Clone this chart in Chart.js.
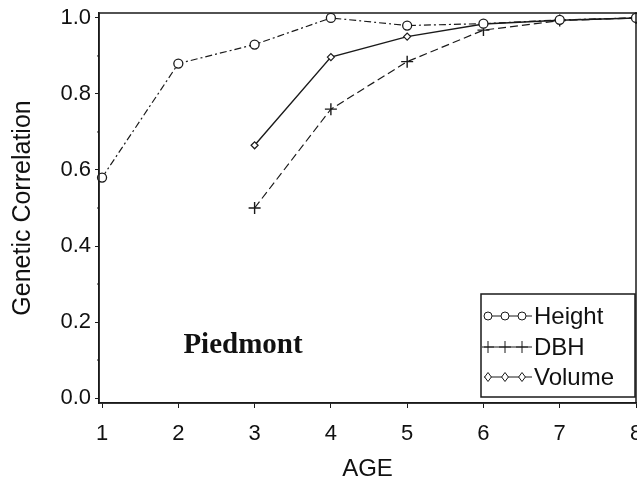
<!DOCTYPE html>
<html>
<head>
<meta charset="utf-8">
<script src="https://cdn.jsdelivr.net/npm/chart.js@4"></script>
<style>
  html, body { margin: 0; padding: 0; background: #fff; }
  #wrap { width: 637px; height: 486px; }
</style>
</head>
<body>
<div id="wrap"><canvas id="myChart" width="637" height="486"></canvas></div>
<script>
const ages = [1, 2, 3, 4, 5, 6, 7, 8];
const heightCorr = [0.58, 0.88, 0.93, 1.0, 0.98, 0.985, 0.995, 1.0];
const dbhCorr = [null, null, 0.50, 0.76, 0.885, 0.968, 0.993, 1.0];
const volumeCorr = [null, null, 0.665, 0.897, 0.951, 0.984, 0.994, 1.0];
const yTicks = [0, 0.2, 0.4, 0.6, 0.8, 1.0];
const legendNames = ['Height', 'DBH', 'Volume'];

const ink = '#1a1a1a';
const sans = 'Liberation Sans, Arial, sans-serif';

function points(vals) {
    return ages.map((a, i) => ({ x: a, y: vals[i] })).filter(p => p.y !== null);
}

// frame, minor ticks, Piedmont label and the legend box
const extras = {
    id: 'extras',
    afterDraw(chart) {
        const c = chart.ctx;
        const a = chart.chartArea;
        const ys = chart.scales.y;
        c.save();
        c.strokeStyle = ink;
        c.lineWidth = 1.5;
        c.strokeRect(a.left, a.top, a.right - a.left, a.bottom - a.top);

        // minor ticks on y
        c.lineWidth = 1;
        for (let v = 0.1; v < 1; v += 0.2) {
            const y = ys.getPixelForValue(v);
            c.beginPath();
            c.moveTo(a.left - 2, y);
            c.lineTo(a.left, y);
            c.stroke();
        }

        c.fillStyle = '#111';
        c.font = 'bold 29px "Liberation Serif", "Times New Roman", serif';
        c.textAlign = 'center';
        c.textBaseline = 'alphabetic';
        c.fillText('Piedmont', 243, 353);

        // legend
        const bx = 481, by = 294, bw = 154, bh = 103;
        c.lineWidth = 1.5;
        c.strokeStyle = ink;
        c.strokeRect(bx, by, bw, bh);
        const rows = [316, 347, 377];
        const ds = chart.data.datasets;
        const sizes = [4, 6, 4.5];
        c.font = '24px ' + sans;
        c.textAlign = 'left';
        c.textBaseline = 'middle';
        rows.forEach((ry, i) => {
            const d = ds[i];
            c.lineWidth = 1;
            c.setLineDash([]);
            c.beginPath();
            c.moveTo(484, ry);
            c.lineTo(532, ry);
            c.stroke();
            [488, 505, 522].forEach(mx => {
                drawMarker(c, d.pointStyle, mx, ry, sizes[i]);
            });
            c.fillStyle = '#111';
            c.fillText(legendNames[i], 534, ry + 1);
        });
        c.restore();
    }
};

function drawMarker(c, style, x, y, r) {
    c.beginPath();
    if (style === 'circle') {
        c.arc(x, y, r, 0, Math.PI * 2);
    } else if (style === 'cross') {
        c.moveTo(x - r, y); c.lineTo(x + r, y);
        c.moveTo(x, y - r); c.lineTo(x, y + r);
    } else {
        c.moveTo(x, y - r); c.lineTo(x + r * 0.75, y);
        c.lineTo(x, y + r); c.lineTo(x - r * 0.75, y); c.closePath();
    }
    c.fillStyle = '#fff';
    if (style !== 'cross') c.fill();
    c.stroke();
}

new Chart(document.getElementById('myChart'), {
    type: 'line',
    data: {
        datasets: [{
            label: legendNames[0],
            data: points(heightCorr),
            borderColor: ink,
            borderWidth: 1.2,
            borderDash: [7, 3, 2, 3],
            pointStyle: 'circle',
            pointRadius: 4.5,
            pointBorderColor: ink,
            pointBackgroundColor: '#fff',
            pointBorderWidth: 1.3,
            clip: false
        }, {
            label: legendNames[1],
            data: points(dbhCorr),
            borderColor: ink,
            borderWidth: 1.2,
            borderDash: [8, 4],
            pointStyle: 'cross',
            pointRadius: 6,
            pointBorderColor: ink,
            pointBorderWidth: 1.4,
            clip: false
        }, {
            label: legendNames[2],
            data: points(volumeCorr),
            borderColor: ink,
            borderWidth: 1.4,
            pointStyle: 'rectRot',
            pointRadius: 3.5,
            pointBorderColor: ink,
            pointBackgroundColor: '#fff',
            pointBorderWidth: 1.2,
            clip: false
        }]
    },
    options: {
        responsive: false,
        animation: false,
        devicePixelRatio: 1,
        layout: { autoPadding: false, padding: { left: 0, right: 1, top: 13, bottom: 0 } },
        plugins: {
            legend: { display: false },
            tooltip: { enabled: false }
        },
        scales: {
            x: {
                type: 'linear',
                min: 0.96,
                max: 8,
                afterBuildTicks: s => { s.ticks = ages.map(v => ({ value: v })); },
                afterFit: s => { s.height = 83; s.paddingLeft = 0; s.paddingRight = 0; },
                grid: { display: true, drawOnChartArea: false, tickLength: 5, tickColor: ink, color: ink },
                border: { display: true, color: ink, width: 1.5 },
                ticks: { color: '#111', padding: 13, font: { family: sans, size: 22 } },
                title: {
                    display: true,
                    text: 'AGE',
                    color: '#111',
                    font: { family: sans, size: 24 },
                    padding: { top: 0, bottom: 2 }
                }
            },
            y: {
                min: -0.013,
                max: 1.013,
                afterBuildTicks: s => { s.ticks = yTicks.map(v => ({ value: v })); },
                afterFit: s => { s.width = 99; s.paddingTop = 0; s.paddingBottom = 0; },
                grid: { display: true, drawOnChartArea: false, tickLength: 4, tickColor: ink, color: ink },
                border: { display: true, color: ink, width: 1.5 },
                ticks: {
                    color: '#111',
                    padding: 4,
                    font: { family: sans, size: 22 },
                    callback: v => v.toFixed(1)
                },
                title: {
                    display: true,
                    text: 'Genetic Correlation',
                    color: '#111',
                    font: { family: sans, size: 25 },
                    padding: { top: 8, bottom: 0 }
                }
            }
        }
    },
    plugins: [extras]
});
</script>
</body>
</html>
